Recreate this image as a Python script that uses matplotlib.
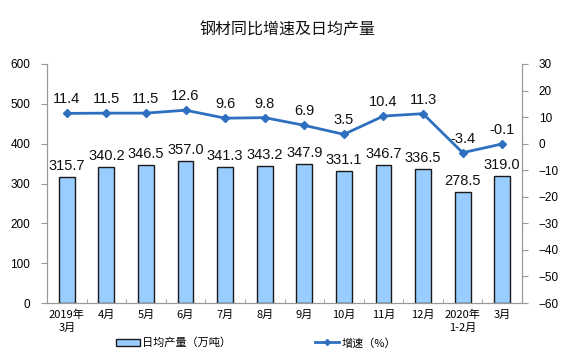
import matplotlib
matplotlib.use("Agg")
import matplotlib.pyplot as plt
from matplotlib.patches import Patch
from matplotlib.lines import Line2D

categories = ["2019年\n3月", "4月", "5月", "6月", "7月", "8月", "9月", "10月", "11月", "12月", "2020年\n1-2月", "3月"]
output = [315.7, 340.2, 346.5, 357.0, 341.3, 343.2, 347.9, 331.1, 346.7, 336.5, 278.5, 319.0]
growth = [11.4, 11.5, 11.5, 12.6, 9.6, 9.8, 6.9, 3.5, 10.4, 11.3, -3.4, -0.1]

CJK = ["Noto Sans CJK SC", "DejaVu Sans"]
NUM = ["Liberation Sans", "DejaVu Sans"]
plt.rcParams['font.family'] = CJK

fig = plt.figure(figsize=(5.75, 3.62), dpi=100)
ax = fig.add_axes([47/575, 1-303/362, 475/575, (303-64)/362])
ax2 = ax.twinx()

x = list(range(len(categories)))
bar_color = "#99ccff"
line_color = "#2e6fc0"
ax.bar(x, output, width=0.4, color=bar_color, edgecolor="#1a1a1a", linewidth=1.0, zorder=2)
ax.set_xlim(-0.5, len(categories) - 0.5)
ax.set_ylim(0, 600)
ax.set_yticks(range(0, 601, 100))
for xi, v in zip(x, output):
    ax.annotate(f"{v:.1f}", (xi, v), xytext=(0, 3), textcoords="offset points",
                ha="center", va="bottom", fontsize=10.5, family=NUM, color="#111111")

ax2.plot(x, growth, color=line_color, linewidth=2, marker="D", markersize=4, zorder=3)
ax2.set_ylim(-60, 30)
ax2.set_yticks(range(-60, 31, 10))
for xi, v in zip(x, growth):
    ax2.annotate(f"{v:.1f}", (xi, v), xytext=(0, 5), textcoords="offset points",
                 ha="center", va="bottom", fontsize=10.5, family=NUM, color="#111111")

spine_c = "#999999"
for a in (ax, ax2):
    for s in a.spines.values():
        s.set_color(spine_c)
    a.spines['top'].set_visible(False)

ax.set_xticks(x)
ax.set_xticklabels(categories, fontsize=8, linespacing=1.3)
ax.set_xticks([i + 0.5 for i in x[:-1]], minor=True)
ax.tick_params(axis='x', which='major', length=0, pad=5)
ax.tick_params(axis='x', which='minor', length=3, direction='in', color=spine_c)
ax.tick_params(axis='y', length=4, color=spine_c, labelsize=8.5, pad=8)
ax2.tick_params(axis='y', length=4, color=spine_c, labelsize=8.5, pad=8)
for lab in ax.get_yticklabels() + ax2.get_yticklabels():
    lab.set_family(NUM)

fig.text(0.5, 1-30/362, "钢材同比增速及日均产量", ha="center", va="center", fontsize=11.5, color="#111111")

handles = [Patch(facecolor=bar_color, edgecolor="#1a1a1a", linewidth=1.0),
           Line2D([0], [0], color=line_color, linewidth=2, marker="D", markersize=3)]
labels = ["日均产量（万吨）", "增速（%）"]
leg = fig.legend(handles, labels, loc="center", bbox_to_anchor=(0.445, 1-343/362), ncol=2,
                 frameon=False, fontsize=8, columnspacing=7.5, handlelength=2.2, handletextpad=0.2)

fig.savefig("out.png", dpi=100)
